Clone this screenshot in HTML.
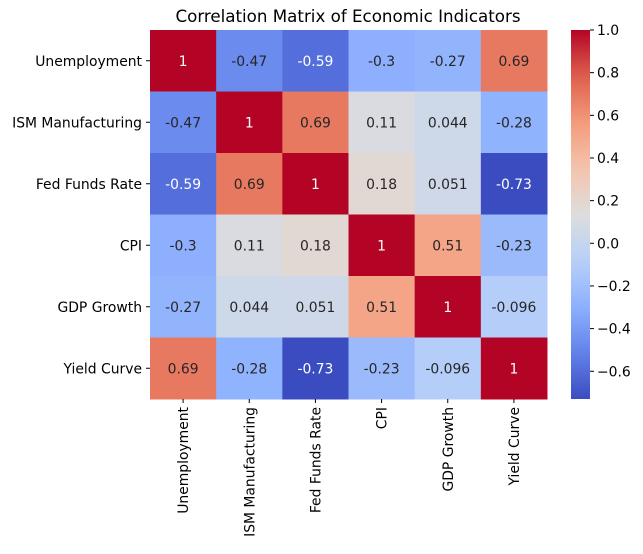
<!DOCTYPE html>
<html><head><meta charset="utf-8"><style>
body{margin:0;background:#fff;font-family:"Liberation Sans","DejaVu Sans",sans-serif;}
svg text{font-family:"DejaVu Sans","Liberation Sans",sans-serif;}
</style></head><body>
<svg id="chart" width="643" height="549" xmlns="http://www.w3.org/2000/svg">
<text x="348" y="22" text-anchor="middle" font-size="16.7">Correlation Matrix of Economic Indicators</text>
<g id="cells"></g><g id="ylabels"></g><g id="xlabels"></g>
<defs><linearGradient id="cbgrad" x1="0" y1="1" x2="0" y2="0"></linearGradient></defs>
<g id="cbar"></g>
</svg>
<script>
const labels=["Unemployment","ISM Manufacturing","Fed Funds Rate","CPI","GDP Growth","Yield Curve"];
const row0=[1,-0.47,-0.59,-0.3,-0.27,0.69];
const row1=[-0.47,1,0.69,0.11,0.044,-0.28];
const row2=[-0.59,0.69,1,0.18,0.051,-0.73];
const row3=[-0.3,0.11,0.18,1,0.51,-0.23];
const row4=[-0.27,0.044,0.051,0.51,1,-0.096];
const row5=[0.69,-0.28,-0.73,-0.23,-0.096,1];
const rows=[row0,row1,row2,row3,row4,row5];
const cbTicks=[-0.6,-0.4,-0.2,0.0,0.2,0.4,0.6,0.8,1.0];
const vmin=-0.73,vmax=1;
const X0=150,Y0=30,W=397,H=369;
const FS=13.9;
const cw=W/labels.length,ch=H/labels.length;
const stops=[[59,76,192],[98,130,234],[141,176,254],[184,208,249],[221,221,221],[245,196,173],[244,154,123],[222,96,77],[180,4,38]];
function cmap(v){let t=(v-vmin)/(vmax-vmin);t=Math.max(0,Math.min(1,t));const p=t*8,i=Math.min(7,Math.floor(p)),f=p-i;const a=stops[i],b=stops[i+1];return [0,1,2].map(k=>Math.round(a[k]+(b[k]-a[k])*f));}
const NS="http://www.w3.org/2000/svg";
function mk(tag,attrs,parent){const e=document.createElementNS(NS,tag);for(const k in attrs)e.setAttribute(k,attrs[k]);parent.appendChild(e);return e;}
const cells=document.getElementById('cells');
rows.forEach((r,i)=>{r.forEach((v,j)=>{
 const c=cmap(v);
 const rect=mk('rect',{x:X0+j*cw,y:Y0+i*ch,width:cw+0.5,height:ch+0.5,fill:`rgb(${c})`},cells);
 
 
 const lum=(0.299*c[0]+0.587*c[1]+0.114*c[2])/255;
 const t=mk('text',{x:X0+j*cw+cw/2,y:Y0+i*ch+ch/2+5,'text-anchor':'middle','font-size':FS,fill:lum<0.5?'#fff':'#262626'},cells);
 t.textContent=String(v);
 
 
});});
const yl=document.getElementById('ylabels'),xl=document.getElementById('xlabels');
labels.forEach((l,i)=>{
 const cy=Y0+i*ch+ch/2;
 mk('line',{x1:X0-4,x2:X0,y1:cy,y2:cy,stroke:'#000'},yl);
 const t=mk('text',{x:X0-8,y:cy+5,'text-anchor':'end','font-size':FS},yl);t.textContent=l;
 
 
 const cx=X0+i*cw+cw/2;
 mk('line',{x1:cx,x2:cx,y1:Y0+H,y2:Y0+H+4,stroke:'#000'},xl);
 const tx=mk('text',{x:0,y:0,'text-anchor':'end','font-size':FS,transform:`translate(${cx+5},${Y0+H+8}) rotate(-90)`},xl);tx.textContent=l;
 
 
});
const grad=document.getElementById('cbgrad');
for(let k=0;k<=20;k++){const v=vmin+(vmax-vmin)*k/20;mk('stop',{offset:k/20,'stop-color':`rgb(${cmap(v)})`},grad);}
const cb=document.getElementById('cbar');
const CX=571,CW=19;
const cr=mk('rect',{x:CX,y:Y0,width:CW,height:H,fill:'url(#cbgrad)'},cb);


cbTicks.forEach(v=>{
 const y=Y0+(vmax-v)/(vmax-vmin)*H;
 mk('line',{x1:CX+CW,x2:CX+CW+4,y1:y,y2:y,stroke:'#000'},cb);
 const t=mk('text',{x:CX+CW+7,y:y+5,'font-size':FS},cb);t.textContent=(v<0?'\u2212':'')+Math.abs(v).toFixed(1);
 
 
});
</script>
</body></html>
